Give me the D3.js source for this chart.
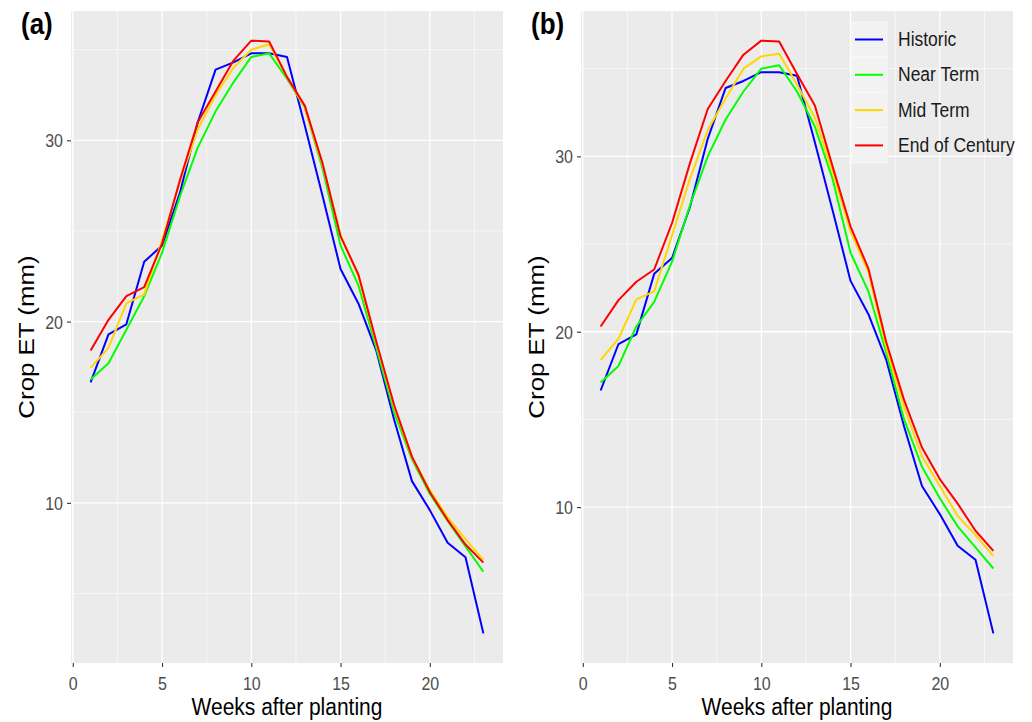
<!DOCTYPE html>
<html>
<head>
<meta charset="utf-8">
<script src="https://cdn.jsdelivr.net/npm/d3@7"></script>
<style>
  body { margin: 0; background: #fff; }
  text { font-family: "Liberation Sans", Arial, sans-serif; }
</style>
</head>
<body>
<script>
// weeks after planting
var weeks = [1,2,3,4,5,6,7,8,9,10,11,12,13,14,15,16,17,18,19,20,21,22,23];

// crop ET (mm), historic is the same in both panels
var historic = [16.65,19.3,19.85,23.3,24.2,27.1,31.0,33.9,34.3,34.8,34.8,34.6,30.8,26.9,22.9,21.0,18.4,14.6,11.2,9.6,7.8,7.0,2.8];

// panel (a)
var nearTermA = [16.8,17.7,19.55,21.4,23.8,26.9,29.6,31.6,33.2,34.6,34.8,33.4,31.8,28.4,24.2,22.0,18.55,15.0,12.4,10.5,9.0,7.6,6.2];
var midTermA = [17.45,18.55,21.0,21.5,24.5,27.7,30.6,32.5,34.0,35.0,35.3,33.5,31.8,28.6,24.8,22.5,18.8,15.3,12.5,10.7,9.2,8.0,6.85];
var endCenturyA = [18.4,20.1,21.4,21.9,24.3,27.8,31.0,32.7,34.4,35.5,35.45,33.5,31.9,28.7,24.7,22.6,18.9,15.4,12.55,10.6,9.05,7.7,6.7];

// panel (b)
var nearTermB = [17.1,18.05,20.3,21.7,24.0,27.2,30.0,32.1,33.7,35.0,35.2,33.7,31.7,28.7,24.5,22.3,18.8,15.0,12.3,10.5,8.9,7.7,6.5];
var midTermB = [18.4,19.6,21.85,22.3,25.5,28.7,31.5,33.3,35.0,35.7,35.85,34.1,32.2,29.1,25.7,23.4,19.1,15.7,12.9,11.2,9.5,8.4,7.2];
var endCenturyB = [20.3,21.8,22.85,23.55,26.2,29.6,32.7,34.3,35.8,36.6,36.55,34.7,32.9,29.4,26.0,23.6,19.4,16.1,13.4,11.6,10.2,8.65,7.5];

var seriesNames = ["Historic","Near Term","Mid Term","End of Century"];
var xTicks = [0,5,10,15,20];
var xMinor = [2.5,7.5,12.5,17.5,22.5];
var yTicks = [10,20,30];
var yMinor = [5,15,25,35];

var colors = ["#0000FF","#00FF00","#FFD700","#FF0000"];

var W = 1032, H = 722;
var panelTop = 11, panelBottom = 663, panelWidth = 432;
var stretch = 1.15; // text in the picture is a bit taller than wide

var svg = d3.select("body").append("svg")
    .attr("width", W)
    .attr("height", H);

svg.append("rect").attr("width", W).attr("height", H).attr("fill", "#fff");

// ggplot style 5% expansion
function expand(ext){
    var pad = (ext[1]-ext[0])*0.05;
    return [ext[0]-pad, ext[1]+pad];
}

function drawPanel(left, label, series, withLegend){
    var x = d3.scaleLinear()
        .domain(expand(d3.extent(weeks)))
        .range([left, left + panelWidth]);
    var allVals = [].concat.apply([], series);
    var y = d3.scaleLinear()
        .domain(expand(d3.extent(allVals)))
        .range([panelBottom, panelTop]);

    var g = svg.append("g");

    g.append("rect")
        .attr("x", left).attr("y", panelTop)
        .attr("width", panelWidth).attr("height", panelBottom - panelTop)
        .attr("fill", "#EBEBEB");

    // minor grid
    g.selectAll(".xminor").data(xMinor).enter().append("line")
        .attr("x1", function(d){ return x(d); }).attr("x2", function(d){ return x(d); })
        .attr("y1", panelTop).attr("y2", panelBottom)
        .attr("stroke", "#fff").attr("stroke-width", 0.6);
    g.selectAll(".yminor").data(yMinor).enter().append("line")
        .attr("x1", left).attr("x2", left + panelWidth)
        .attr("y1", function(d){ return y(d); }).attr("y2", function(d){ return y(d); })
        .attr("stroke", "#fff").attr("stroke-width", 0.6);
    // major grid
    g.selectAll(".xmajor").data(xTicks).enter().append("line")
        .attr("x1", function(d){ return x(d); }).attr("x2", function(d){ return x(d); })
        .attr("y1", panelTop).attr("y2", panelBottom)
        .attr("stroke", "#fff").attr("stroke-width", 1.3);
    g.selectAll(".ymajor").data(yTicks).enter().append("line")
        .attr("x1", left).attr("x2", left + panelWidth)
        .attr("y1", function(d){ return y(d); }).attr("y2", function(d){ return y(d); })
        .attr("stroke", "#fff").attr("stroke-width", 1.3);

    // axes
    var xAxis = g.append("g")
        .attr("transform", "translate(0," + panelBottom + ")")
        .call(d3.axisBottom(x).tickValues(xTicks).tickSize(4));
    var yAxis = g.append("g")
        .attr("transform", "translate(" + left + ",0)")
        .call(d3.axisLeft(y).tickValues(yTicks).tickSize(4));
    [xAxis, yAxis].forEach(function(a){
        a.select(".domain").remove();
        a.selectAll("line").attr("stroke", "#333").attr("stroke-width", 1.1);
        a.selectAll("text").attr("fill", "#4D4D4D")
            .style("font-size", "16px")
            .style("font-family", "'Liberation Sans', Arial, sans-serif");
    });
    xAxis.selectAll("text")
        .attr("y", 0).attr("dy", null)
        .attr("transform", "translate(0,27) scale(1," + stretch + ")");
    yAxis.selectAll("text")
        .attr("x", 0).attr("dy", "0.35em")
        .attr("transform", "translate(-8,0) scale(1," + stretch + ")");

    // lines
    var line = d3.line()
        .x(function(d, i){ return x(weeks[i]); })
        .y(function(d){ return y(d); });
    g.selectAll(".series").data(series).enter().append("path")
        .attr("d", function(d){ return line(d); })
        .attr("fill", "none")
        .attr("stroke", function(d, i){ return colors[i]; })
        .attr("stroke-width", 2)
        .attr("stroke-linejoin", "round");

    // titles
    g.append("text")
        .attr("transform", "translate(" + (left + panelWidth/2) + ",715) scale(1," + stretch + ")")
        .attr("text-anchor", "middle")
        .style("font-size", "21px").attr("fill", "#000")
        .text("Weeks after planting");
    g.append("text")
        .attr("transform", "translate(" + (left - 37) + "," + ((panelTop + panelBottom)/2) + ") scale(1," + stretch + ") rotate(-90)")
        .attr("text-anchor", "middle")
        .style("font-size", "22.5px").attr("fill", "#000")
        .text("Crop ET (mm)");
    g.append("text")
        .attr("transform", "translate(" + (left - 50) + ",34) scale(1," + stretch + ")")
        .style("font-size", "26px").style("font-weight", "bold").attr("fill", "#000")
        .text(label);

    if (withLegend){
        var lg = g.append("g").attr("transform", "translate(852,22)");
        var rows = lg.selectAll(".key").data(seriesNames).enter().append("g")
            .attr("transform", function(d, i){ return "translate(0," + (i*35.3) + ")"; });
        rows.append("rect")
            .attr("width", 35).attr("height", 35)
            .attr("fill", "#F2F2F2").attr("stroke", "#fff").attr("stroke-width", 0.5);
        rows.append("line")
            .attr("x1", 3).attr("x2", 31).attr("y1", 17.5).attr("y2", 17.5)
            .attr("stroke", function(d, i){ return colors[i]; })
            .attr("stroke-width", 2);
        rows.append("text")
            .attr("transform", "translate(46,24) scale(1," + stretch + ")")
            .style("font-size", "17.5px").attr("fill", "#1A1A1A")
            .text(function(d){ return d; });
    }
}

drawPanel(71, "(a)", [historic, nearTermA, midTermA, endCenturyA], false);
drawPanel(581, "(b)", [historic, nearTermB, midTermB, endCenturyB], true);
</script>
</body>
</html>
